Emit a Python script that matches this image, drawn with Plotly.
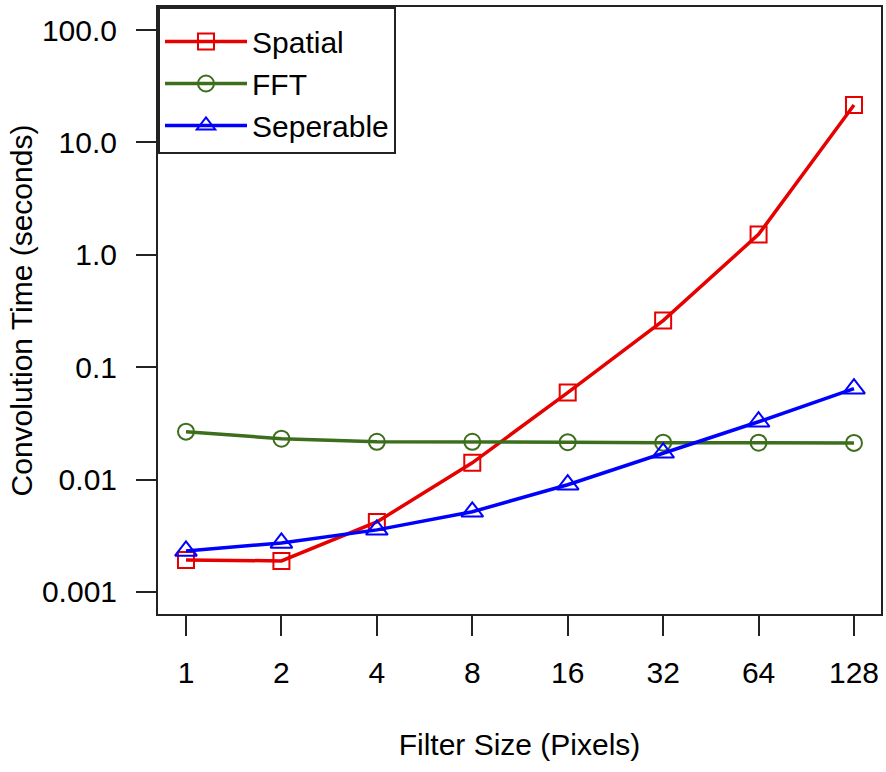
import plotly.graph_objects as go

filter_sizes = [1, 2, 4, 8, 16, 32, 64, 128]
spatial = [0.00193, 0.00189, 0.0042, 0.0141, 0.0594, 0.26, 1.52, 21.5]
fft = [0.0267, 0.0231, 0.0217, 0.0217, 0.0215, 0.0213, 0.0213, 0.0212]
seperable = [0.00232, 0.00273, 0.00357, 0.00517, 0.0090, 0.0173, 0.0327, 0.0644]

y_tickvals = [0.001, 0.01, 0.1, 1, 10, 100]
y_ticktext = ["0.001", "0.01", "0.1", "1.0", "10.0", "100.0"]
x_ticktext = [str(v) for v in filter_sizes]

FONT = "Liberation Sans, Arial, sans-serif"

fig = go.Figure()
series = [
    ("Spatial", spatial, "#e60000", "square-open", 16),
    ("FFT", fft, "#3c6e1c", "circle-open", 16),
    ("Seperable", seperable, "#0000ff", "triangle-up-open", 19),
]
for name, vals, color, sym, size in series:
    fig.add_trace(go.Scatter(
        x=filter_sizes, y=vals, name=name, mode="lines+markers",
        line=dict(color=color, width=3.5),
        marker=dict(symbol=sym, size=size, color=color, line=dict(color=color, width=2)),
    ))

fig.update_layout(
    width=886, height=772,
    margin=dict(l=158, r=5, t=7, b=158, autoexpand=False),
    paper_bgcolor="white", plot_bgcolor="white",
    font=dict(family=FONT, size=30, color="black"),
    showlegend=True,
    legend=dict(
        x=0, y=1, xanchor="left", yanchor="top",
        bordercolor="#222", borderwidth=2, bgcolor="white",
        font=dict(size=30), itemwidth=82,
        tracegroupgap=0,
        title=dict(text=" ", font=dict(size=5)),
    ),
    xaxis=dict(
        type="log", range=[-0.0883, 2.1924], automargin=False,
        tickvals=filter_sizes, ticktext=x_ticktext,
        ticks="outside", ticklen=20, tickwidth=2, tickcolor="#222",
        showline=True, mirror=True, linecolor="#222", linewidth=2,
        showgrid=False, zeroline=False,
        ticklabelstandoff=11,
        title=dict(text="Filter Size (Pixels)", standoff=46, font=dict(size=30)),
    ),
    yaxis=dict(
        type="log", range=[-3.196, 2.205], automargin=False,
        tickvals=y_tickvals, ticktext=y_ticktext,
        ticks="outside", ticklen=20, tickwidth=2, tickcolor="#222",
        showline=True, mirror=True, linecolor="#222", linewidth=2,
        showgrid=False, zeroline=False,
        ticklabelstandoff=13,
        title=dict(text="Convolution Time (seconds)", standoff=0, font=dict(size=30)),
    ),
)

fig.write_html("out.html", config={"displayModeBar": False},
               post_script="document.body.style.margin='0px';")
